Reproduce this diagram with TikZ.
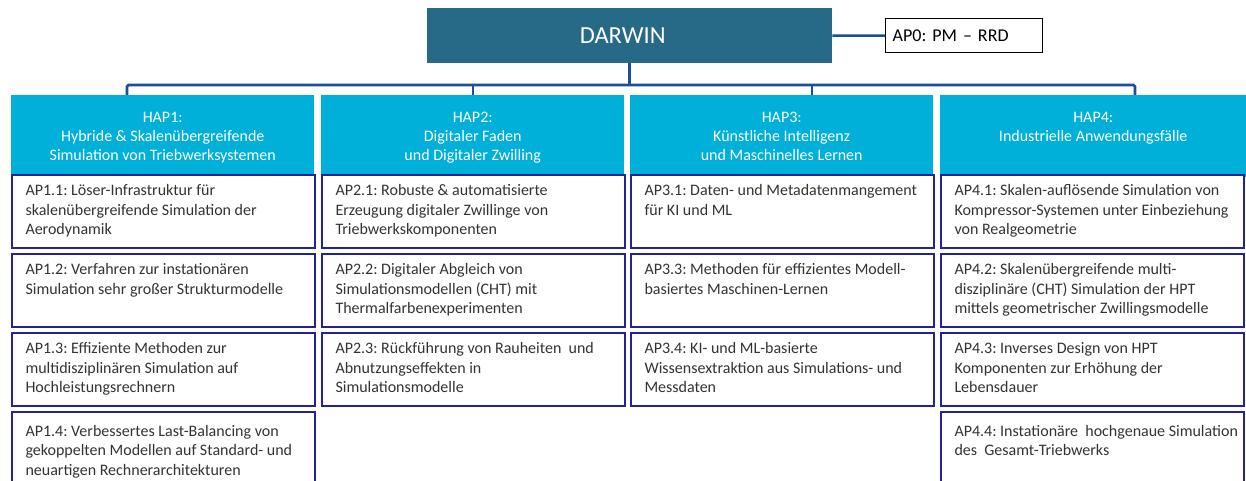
\documentclass[tikz,border=0pt]{standalone}
\usepackage{fontspec}
\setmainfont{Carlito}
\frenchspacing
\definecolor{darwinc}{HTML}{276A88}
\definecolor{hapc}{HTML}{00B0D8}
\definecolor{connc}{HTML}{1B4F9C}
\definecolor{apborder}{HTML}{22229A}
\definecolor{aptextc}{HTML}{333333}
\newcommand{\aptxt}[1]{\parbox[t][54pt][t]{276pt}{\raggedright\fontsize{16pt}{19.5pt}\selectfont #1}}
\newcommand{\haptxt}[1]{\parbox[t][48pt][t]{294pt}{\centering\fontsize{16pt}{19.2pt}\selectfont #1}}
\tikzset{
  apbox/.style={draw=apborder, line width=2pt, fill=white, anchor=north west,
    minimum width=303pt, minimum height=73pt, inner xsep=13pt, inner ysep=8pt,
    text=aptextc, align=left},
  hapbox/.style={fill=hapc, anchor=north west, minimum width=303pt, minimum height=77pt,
    inner xsep=4pt, inner ysep=17pt, text=white},
  conn/.style={draw=connc, line width=2.6pt, rounded corners=1.5pt},
}
\begin{document}
\begin{tikzpicture}[x=1pt,y=-1pt]
\useasboundingbox[fill=white] (0,0) rectangle (1246,481);
% top
\node[fill=darwinc, anchor=north west, minimum width=405pt, minimum height=55pt, text=white,
  font=\fontsize{24.5pt}{27pt}\selectfont] (darwin) at (427,8) {DARWIN\hspace*{14pt}};
\node[draw=black, line width=1.3pt, anchor=north west, minimum width=157pt, minimum height=34pt,
  font=\fontsize{18pt}{20pt}\selectfont, inner xsep=7pt, text width=143pt, align=left] (ap0) at (885,18) {AP0: PM -- RRD};
% headers
\node[hapbox] (hap1) at (11,95) {\haptxt{HAP1:\\Hybride \& Skalenübergreifende\\Simulation von Triebwerksystemen}};
\node[hapbox] (hap2) at (321,95) {\haptxt{HAP2:\\Digitaler Faden\\und Digitaler Zwilling}};
\node[hapbox] (hap3) at (630,95) {\haptxt{HAP3:\\Künstliche Intelligenz\\und Maschinelles Lernen}};
\node[hapbox, minimum width=306pt] (hap4) at (940,95) {\haptxt{HAP4:\\Industrielle Anwendungsfälle}};
% connectors
\coordinate (b1) at (127,85);
\coordinate (b2) at (473,85);
\coordinate (b3) at (812,85);
\coordinate (b4) at (1135,85);
\coordinate (bd) at (darwin.south |- b1);
\draw[conn] (darwin.east) -- (ap0.west);
\draw[conn] (hap1.north -| b1) -- (b1) -- (b4) -- (hap4.north -| b4);
\draw[conn] (darwin.south) -- (bd);
\draw[conn] (b2) -- (hap2.north -| b2);
\draw[conn] (b3) -- (hap3.north -| b3);
% column 1
\node[apbox] (ap11) at (11,174) {\aptxt{AP1.1: Löser-Infrastruktur für\\skalenübergreifende Simulation der\\Aerodynamik}};
\node[apbox] (ap12) at (11,253) {\aptxt{AP1.2: Verfahren zur instationären\\Simulation sehr großer Strukturmodelle}};
\node[apbox] (ap13) at (11,332) {\aptxt{AP1.3: Effiziente Methoden zur\\multidisziplinären Simulation auf\\Hochleistungsrechnern}};
\node[apbox, minimum height=80pt] (ap14) at (11,411) {\aptxt{AP1.4: Verbessertes Last-Balancing von\\gekoppelten Modellen auf Standard- und\\neuartigen Rechnerarchitekturen}};
% column 2
\node[apbox] (ap21) at (321,174) {\aptxt{AP2.1: Robuste \& automatisierte\\Erzeugung digitaler Zwillinge von\\Triebwerkskomponenten}};
\node[apbox] (ap22) at (321,253) {\aptxt{AP2.2: Digitaler Abgleich von\\Simulationsmodellen (CHT) mit\\Thermalfarbenexperimenten}};
\node[apbox] (ap23) at (321,332) {\aptxt{AP2.3: Rückführung von Rauheiten\ \ und\\Abnutzungseffekten in\\Simulationsmodelle}};
% column 3
\node[apbox] (ap31) at (630,174) {\aptxt{AP3.1: Daten- und Metadatenmangement\\für KI und ML}};
\node[apbox] (ap33) at (630,253) {\aptxt{AP3.3: Methoden für effizientes Modell-\\basiertes Maschinen-Lernen}};
\node[apbox] (ap34) at (630,332) {\aptxt{AP3.4: KI- und ML-basierte\\Wissensextraktion aus Simulations- und\\Messdaten}};
% column 4
\node[apbox] (ap41) at (940,174) {\aptxt{AP4.1: Skalen-auflösende Simulation von\\Kompressor-Systemen unter Einbeziehung\\von Realgeometrie}};
\node[apbox] (ap42) at (940,253) {\aptxt{AP4.2: Skalenübergreifende multi-\\disziplinäre (CHT) Simulation der HPT\\mittels geometrischer Zwillingsmodelle}};
\node[apbox] (ap43) at (940,332) {\aptxt{AP4.3: Inverses Design von HPT\\Komponenten zur Erhöhung der\\Lebensdauer}};
\node[apbox, minimum height=80pt] (ap44) at (940,411) {\aptxt{\mbox{AP4.4: Instationäre\ \ hochgenaue Simulation}\\des\ \ Gesamt-Triebwerks}};
\end{tikzpicture}
\end{document}
